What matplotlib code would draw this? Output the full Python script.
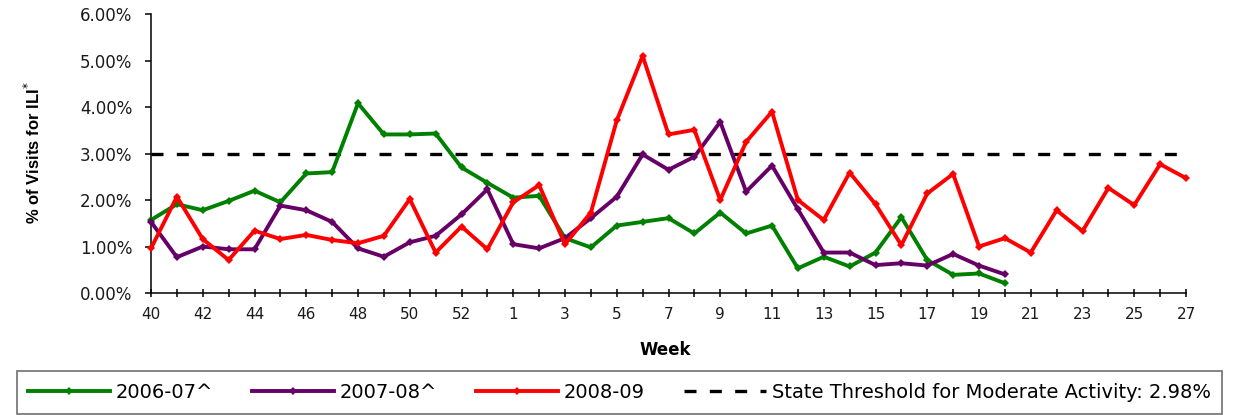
import numpy as np
import matplotlib
matplotlib.use("Agg")
import matplotlib.pyplot as plt
from matplotlib.ticker import FixedLocator, FuncFormatter

# ---------------------------------------------
#  data (% of visits for ILI)
# ---------------------------------------------
weeks = list(range(40, 54)) + list(range(1, 28))
season_0607 = [1.57, 1.91, 1.78, 1.98, 2.20, 1.95, 2.57, 2.60, 4.08, 3.41, 3.41, 3.43, 2.70, 2.37,
               2.05, 2.09, 1.18, 0.98, 1.45, 1.53, 1.61, 1.28, 1.73, 1.28, 1.45, 0.53, 0.78, 0.57,
               0.87, 1.63, 0.71, 0.39, 0.42, 0.21]
season_0708 = [1.53, 0.77, 1.00, 0.94, 0.94, 1.88, 1.78, 1.53, 0.96, 0.78, 1.09, 1.23, 1.69, 2.23,
               1.05, 0.96, 1.18, 1.61, 2.07, 2.98, 2.65, 2.93, 3.68, 2.18, 2.74, 1.80, 0.87, 0.87,
               0.60, 0.64, 0.59, 0.84, 0.59, 0.40]
season_0809 = [0.96, 2.07, 1.16, 0.71, 1.34, 1.16, 1.25, 1.14, 1.07, 1.23, 2.02, 0.87, 1.43, 0.94,
               1.95, 2.32, 1.05, 1.73, 3.71, 5.10, 3.41, 3.51, 2.00, 3.25, 3.90, 2.00, 1.57, 2.59,
               1.91, 1.03, 2.14, 2.56, 1.00, 1.18, 0.87, 1.78, 1.33, 2.26, 1.89, 2.77, 2.47]
threshold = 2.98
y_ticks = [0, 1, 2, 3, 4, 5, 6]

W, H = 1233, 415
fig = plt.figure(figsize=(W / 100, H / 100), dpi=100)
ax = fig.add_axes([151 / W, 122 / H, 1035 / W, 279 / H])

x = np.arange(len(weeks))
tick_color = '#1a1a1a'

# threshold line (dashed) across all weeks
ax.plot(x, [threshold] * len(weeks), color='black', lw=2.4, linestyle=(0, (3.6, 4.0)),
        label='State Threshold for Moderate Activity: 2.98%', zorder=1)

series = [(season_0607, '#008000', '2006-07^'),
          (season_0708, '#660066', '2007-08^'),
          (season_0809, '#ff0000', '2008-09')]
for vals, col, lab in series:
    ax.plot(x[:len(vals)], vals, color=col, lw=2.8, marker='D', markersize=4.5,
            markeredgewidth=0, label=lab, clip_on=False, zorder=3)

ax.set_xlim(0, len(weeks) - 1)
ax.set_ylim(0, 6)

ax.xaxis.set_major_locator(FixedLocator(x))
ax.set_xticklabels([str(w) if i % 2 == 0 else '' for i, w in enumerate(weeks)])
ax.yaxis.set_major_locator(FixedLocator(y_ticks))
ax.yaxis.set_major_formatter(FuncFormatter(lambda v, p: f"{v:.2f}%"))

ax.tick_params(axis='x', direction='inout', length=6, width=1.1, pad=7,
               labelsize=11, labelcolor=tick_color)
ax.tick_params(axis='y', direction='out', length=4.5, width=1.1, pad=9,
               labelsize=12, labelcolor=tick_color)

for s in ['top', 'right']:
    ax.spines[s].set_visible(False)
for s in ['left', 'bottom']:
    ax.spines[s].set_linewidth(1.1)

fig.text(33 / W, 1 - 153 / H, r'% of Visits for ILI$^{*}$', rotation=90, ha='center',
         va='center', fontsize=12, fontweight='bold', family='Liberation Sans')
fig.text(665 / W, 1 - 350 / H, 'Week', ha='center', va='center', fontsize=12,
         fontweight='bold')

# legend in a box across the bottom
handles, labels = ax.get_legend_handles_labels()
order = [1, 2, 3, 0]
leg = fig.legend([handles[i] for i in order], [labels[i] for i in order],
                 loc='center', ncol=4, mode='expand',
                 bbox_to_anchor=(7 / W, 1 / H, 1225 / W, 43 / H),
                 fontsize=14, handlelength=4.2, handletextpad=0.3, columnspacing=0.8,
                 borderpad=0.6, fancybox=False, framealpha=1)
leg.get_frame().set_edgecolor('#707070')
leg.get_frame().set_linewidth(1.2)

fig.savefig('out.png', dpi=100)
